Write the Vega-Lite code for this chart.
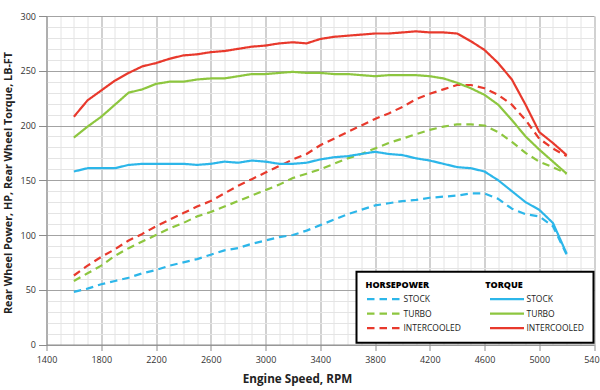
{
  "$schema": "https://vega.github.io/schema/vega-lite/v6.json",
  "width": 547.5,
  "height": 328.5,
  "autosize": {"type": "none"},
  "padding": {"left": 46.5, "top": 16, "right": 6, "bottom": 45.5},
  "background": "white",
  "config": {"view": {"stroke": null}, "font": "Open Sans"},
  "data": {"values": [
    {"rpm":1600,"TORQUE STOCK":158,"TORQUE TURBO":189,"TORQUE INTERCOOLED":208,"HORSEPOWER STOCK":48,"HORSEPOWER TURBO":58,"HORSEPOWER INTERCOOLED":63},
    {"rpm":1700,"TORQUE STOCK":161,"TORQUE TURBO":199,"TORQUE INTERCOOLED":223,"HORSEPOWER STOCK":51,"HORSEPOWER TURBO":65,"HORSEPOWER INTERCOOLED":72},
    {"rpm":1800,"TORQUE STOCK":161,"TORQUE TURBO":208,"TORQUE INTERCOOLED":232,"HORSEPOWER STOCK":55,"HORSEPOWER TURBO":72,"HORSEPOWER INTERCOOLED":80},
    {"rpm":1900,"TORQUE STOCK":161,"TORQUE TURBO":219,"TORQUE INTERCOOLED":241,"HORSEPOWER STOCK":58,"HORSEPOWER TURBO":81,"HORSEPOWER INTERCOOLED":87},
    {"rpm":2000,"TORQUE STOCK":164,"TORQUE TURBO":230,"TORQUE INTERCOOLED":248,"HORSEPOWER STOCK":61,"HORSEPOWER TURBO":88,"HORSEPOWER INTERCOOLED":95},
    {"rpm":2100,"TORQUE STOCK":165,"TORQUE TURBO":233,"TORQUE INTERCOOLED":254,"HORSEPOWER STOCK":65,"HORSEPOWER TURBO":94,"HORSEPOWER INTERCOOLED":101},
    {"rpm":2200,"TORQUE STOCK":165,"TORQUE TURBO":238,"TORQUE INTERCOOLED":257,"HORSEPOWER STOCK":68,"HORSEPOWER TURBO":100,"HORSEPOWER INTERCOOLED":108},
    {"rpm":2300,"TORQUE STOCK":165,"TORQUE TURBO":240,"TORQUE INTERCOOLED":261,"HORSEPOWER STOCK":72,"HORSEPOWER TURBO":106,"HORSEPOWER INTERCOOLED":114},
    {"rpm":2400,"TORQUE STOCK":165,"TORQUE TURBO":240,"TORQUE INTERCOOLED":264,"HORSEPOWER STOCK":75,"HORSEPOWER TURBO":111,"HORSEPOWER INTERCOOLED":120},
    {"rpm":2500,"TORQUE STOCK":164,"TORQUE TURBO":242,"TORQUE INTERCOOLED":265,"HORSEPOWER STOCK":78,"HORSEPOWER TURBO":117,"HORSEPOWER INTERCOOLED":126},
    {"rpm":2600,"TORQUE STOCK":165,"TORQUE TURBO":243,"TORQUE INTERCOOLED":267,"HORSEPOWER STOCK":82,"HORSEPOWER TURBO":121,"HORSEPOWER INTERCOOLED":131},
    {"rpm":2700,"TORQUE STOCK":167,"TORQUE TURBO":243,"TORQUE INTERCOOLED":268,"HORSEPOWER STOCK":86,"HORSEPOWER TURBO":126,"HORSEPOWER INTERCOOLED":138},
    {"rpm":2800,"TORQUE STOCK":166,"TORQUE TURBO":245,"TORQUE INTERCOOLED":270,"HORSEPOWER STOCK":88,"HORSEPOWER TURBO":131,"HORSEPOWER INTERCOOLED":145},
    {"rpm":2900,"TORQUE STOCK":168,"TORQUE TURBO":247,"TORQUE INTERCOOLED":272,"HORSEPOWER STOCK":92,"HORSEPOWER TURBO":136,"HORSEPOWER INTERCOOLED":151},
    {"rpm":3000,"TORQUE STOCK":167,"TORQUE TURBO":247,"TORQUE INTERCOOLED":273,"HORSEPOWER STOCK":95,"HORSEPOWER TURBO":141,"HORSEPOWER INTERCOOLED":157},
    {"rpm":3100,"TORQUE STOCK":165,"TORQUE TURBO":248,"TORQUE INTERCOOLED":275,"HORSEPOWER STOCK":98,"HORSEPOWER TURBO":146,"HORSEPOWER INTERCOOLED":163},
    {"rpm":3200,"TORQUE STOCK":165,"TORQUE TURBO":249,"TORQUE INTERCOOLED":276,"HORSEPOWER STOCK":100,"HORSEPOWER TURBO":152,"HORSEPOWER INTERCOOLED":169},
    {"rpm":3300,"TORQUE STOCK":166,"TORQUE TURBO":248,"TORQUE INTERCOOLED":275,"HORSEPOWER STOCK":104,"HORSEPOWER TURBO":156,"HORSEPOWER INTERCOOLED":174},
    {"rpm":3400,"TORQUE STOCK":169,"TORQUE TURBO":248,"TORQUE INTERCOOLED":279,"HORSEPOWER STOCK":109,"HORSEPOWER TURBO":160,"HORSEPOWER INTERCOOLED":182},
    {"rpm":3500,"TORQUE STOCK":171,"TORQUE TURBO":247,"TORQUE INTERCOOLED":281,"HORSEPOWER STOCK":114,"HORSEPOWER TURBO":165,"HORSEPOWER INTERCOOLED":188},
    {"rpm":3600,"TORQUE STOCK":172,"TORQUE TURBO":247,"TORQUE INTERCOOLED":282,"HORSEPOWER STOCK":119,"HORSEPOWER TURBO":170,"HORSEPOWER INTERCOOLED":194},
    {"rpm":3700,"TORQUE STOCK":174,"TORQUE TURBO":246,"TORQUE INTERCOOLED":283,"HORSEPOWER STOCK":123,"HORSEPOWER TURBO":174,"HORSEPOWER INTERCOOLED":200},
    {"rpm":3800,"TORQUE STOCK":176,"TORQUE TURBO":245,"TORQUE INTERCOOLED":284,"HORSEPOWER STOCK":127,"HORSEPOWER TURBO":179,"HORSEPOWER INTERCOOLED":206},
    {"rpm":3900,"TORQUE STOCK":174,"TORQUE TURBO":246,"TORQUE INTERCOOLED":284,"HORSEPOWER STOCK":129,"HORSEPOWER TURBO":184,"HORSEPOWER INTERCOOLED":211},
    {"rpm":4000,"TORQUE STOCK":173,"TORQUE TURBO":246,"TORQUE INTERCOOLED":285,"HORSEPOWER STOCK":131,"HORSEPOWER TURBO":188,"HORSEPOWER INTERCOOLED":217},
    {"rpm":4100,"TORQUE STOCK":170,"TORQUE TURBO":246,"TORQUE INTERCOOLED":286,"HORSEPOWER STOCK":132,"HORSEPOWER TURBO":192,"HORSEPOWER INTERCOOLED":224},
    {"rpm":4200,"TORQUE STOCK":168,"TORQUE TURBO":245,"TORQUE INTERCOOLED":285,"HORSEPOWER STOCK":134,"HORSEPOWER TURBO":196,"HORSEPOWER INTERCOOLED":229},
    {"rpm":4300,"TORQUE STOCK":165,"TORQUE TURBO":243,"TORQUE INTERCOOLED":285,"HORSEPOWER STOCK":135,"HORSEPOWER TURBO":199,"HORSEPOWER INTERCOOLED":233},
    {"rpm":4400,"TORQUE STOCK":162,"TORQUE TURBO":239,"TORQUE INTERCOOLED":284,"HORSEPOWER STOCK":136,"HORSEPOWER TURBO":201,"HORSEPOWER INTERCOOLED":237},
    {"rpm":4500,"TORQUE STOCK":161,"TORQUE TURBO":234,"TORQUE INTERCOOLED":277,"HORSEPOWER STOCK":138,"HORSEPOWER TURBO":201,"HORSEPOWER INTERCOOLED":237},
    {"rpm":4600,"TORQUE STOCK":158,"TORQUE TURBO":228,"TORQUE INTERCOOLED":269,"HORSEPOWER STOCK":138,"HORSEPOWER TURBO":200,"HORSEPOWER INTERCOOLED":234},
    {"rpm":4700,"TORQUE STOCK":150,"TORQUE TURBO":219,"TORQUE INTERCOOLED":257,"HORSEPOWER STOCK":133,"HORSEPOWER TURBO":194,"HORSEPOWER INTERCOOLED":228},
    {"rpm":4800,"TORQUE STOCK":140,"TORQUE TURBO":205,"TORQUE INTERCOOLED":242,"HORSEPOWER STOCK":124,"HORSEPOWER TURBO":185,"HORSEPOWER INTERCOOLED":219},
    {"rpm":4900,"TORQUE STOCK":130,"TORQUE TURBO":190,"TORQUE INTERCOOLED":219,"HORSEPOWER STOCK":119,"HORSEPOWER TURBO":175,"HORSEPOWER INTERCOOLED":205},
    {"rpm":5000,"TORQUE STOCK":123,"TORQUE TURBO":178,"TORQUE INTERCOOLED":194,"HORSEPOWER STOCK":117,"HORSEPOWER TURBO":167,"HORSEPOWER INTERCOOLED":188},
    {"rpm":5100,"TORQUE STOCK":111,"TORQUE TURBO":167,"TORQUE INTERCOOLED":184,"HORSEPOWER STOCK":108,"HORSEPOWER TURBO":162,"HORSEPOWER INTERCOOLED":179},
    {"rpm":5200,"TORQUE STOCK":83,"TORQUE TURBO":156,"TORQUE INTERCOOLED":173,"HORSEPOWER STOCK":82,"HORSEPOWER TURBO":156,"HORSEPOWER INTERCOOLED":172}
  ]},
  "encoding": {
    "x": {
      "field": "rpm", "type": "quantitative",
      "scale": {"domain": [1400, 5400], "nice": false, "zero": false},
      "axis": {
        "values": [1400,1500,1600,1700,1800,1900,2000,2100,2200,2300,2400,2500,2600,2700,2800,2900,3000,3100,3200,3300,3400,3500,3600,3700,3800,3900,4000,4100,4200,4300,4400,4500,4600,4700,4800,4900,5000,5100,5200,5300,5400],
        "format": "d",
        "labelExpr": "datum.value % 400 === 200 ? datum.label : ''",
        "labelOverlap": false, "labelBound": false, "labelFlush": false,
        "labelFont": "Open Sans", "labelFontSize": 9, "labelColor": "#333333",
        "labelPadding": 5,
        "grid": true,
        "gridColor": {"condition": {"test": "datum.value % 400 === 200", "value": "#a3a3a3"}, "value": "#e4e4e4"},
        "gridWidth": 1,
        "tickSize": 6, "tickColor": "#8c8c8c",
        "tickOpacity": {"condition": {"test": "datum.value % 400 === 200", "value": 1}, "value": 0},
        "domainColor": "#8c8c8c",
        "title": "Engine Speed, RPM",
        "titleFont": "Open Sans", "titleFontSize": 11.7, "titleFontWeight": "bold", "titleColor": "#222222",
        "titleX": 250.5, "titleY": 33.5, "titleBaseline": "middle", "titleAlign": "center"
      }
    },
    "y": {
      "field": "value", "type": "quantitative",
      "scale": {"domain": [0, 300], "nice": false},
      "axis": {
        "values": [0,10,20,30,40,50,60,70,80,90,100,110,120,130,140,150,160,170,180,190,200,210,220,230,240,250,260,270,280,290,300],
        "labelExpr": "datum.value % 50 === 0 ? datum.label : ''",
        "labelOverlap": false, "labelBound": false, "labelFlush": false,
        "labelFont": "Open Sans", "labelFontSize": 9, "labelColor": "#333333",
        "labelPadding": 3,
        "grid": true,
        "gridColor": {"condition": {"test": "datum.value % 50 === 0", "value": "#a3a3a3"}, "value": "#e4e4e4"},
        "gridWidth": 1,
        "tickSize": 8, "tickColor": "#8c8c8c",
        "tickOpacity": {"condition": {"test": "datum.value % 50 === 0", "value": 1}, "value": 0},
        "domainColor": "#8c8c8c",
        "title": "Rear Wheel Power, HP, Rear Wheel Torque, LB-FT",
        "titleFont": "Open Sans", "titleFontSize": 10.8, "titleFontWeight": "bold", "titleColor": "#222222",
        "titleX": -38.5, "titleY": 166.5, "titleBaseline": "middle", "titleAlign": "center", "titleAngle": -90
      }
    },
    "color": {
      "field": "series", "type": "nominal",
      "scale": {
        "domain": ["HORSEPOWER STOCK","HORSEPOWER TURBO","HORSEPOWER INTERCOOLED","TORQUE STOCK","TORQUE TURBO","TORQUE INTERCOOLED"],
        "range": ["#2cb6e9","#8dc63f","#e8392c","#2cb6e9","#8dc63f","#e8392c"]
      },
      "legend": {
        "orient": "none", "legendX": 310, "legendY": 255.7,
        "direction": "vertical",
        "columns": 2, "columnPadding": 27, "rowPadding": 4.5,
        "clipHeight": 10,
        "title": "HORSEPOWER\u00a0\u00a0\u00a0\u00a0\u00a0\u00a0\u00a0\u00a0\u00a0\u00a0\u00a0\u00a0\u00a0\u00a0\u00a0\u00a0\u00a0\u00a0\u00a0\u00a0\u00a0\u00a0\u00a0\u00a0TORQUE",
        "titleFont": "Open Sans", "titleFontSize": 9, "titleFontWeight": 800, "titleColor": "#000000",
        "titlePadding": 4.5,
        "labelExpr": "replace(replace(datum.label, 'HORSEPOWER ', ''), 'TORQUE ', '')",
        "labelFont": "Open Sans", "labelFontSize": 8.5, "labelColor": "#222222", "labelOffset": 1,
        "symbolType": "stroke", "symbolSize": 1156,
        "padding": 9, "strokeColor": "#000000", "fillColor": "#ffffff",
        "encode": {"legend": {"update": {"strokeWidth": {"value": 2}}}}
      }
    },
    "strokeDash": {
      "field": "series", "type": "nominal",
      "scale": {
        "domain": ["HORSEPOWER STOCK","HORSEPOWER TURBO","HORSEPOWER INTERCOOLED","TORQUE STOCK","TORQUE TURBO","TORQUE INTERCOOLED"],
        "range": [[7.5,5],[7.5,5],[7.5,5],[1,0],[1,0],[1,0]]
      }
    },
    "strokeWidth": {
      "field": "series", "type": "nominal",
      "scale": {
        "domain": ["HORSEPOWER STOCK","HORSEPOWER TURBO","HORSEPOWER INTERCOOLED","TORQUE STOCK","TORQUE TURBO","TORQUE INTERCOOLED"],
        "range": [2.2,2.2,2.2,3.6,3.6,3.6]
      }
    }
  },
  "layer": [
    {
      "transform": [{"fold": ["HORSEPOWER STOCK","HORSEPOWER TURBO","HORSEPOWER INTERCOOLED"], "as": ["series","value"]}],
      "mark": {"type": "line", "strokeJoin": "round"}
    },
    {
      "transform": [{"fold": ["TORQUE STOCK","TORQUE TURBO","TORQUE INTERCOOLED"], "as": ["series","value"]}],
      "mark": {"type": "line", "strokeJoin": "round"}
    }
  ]
}
